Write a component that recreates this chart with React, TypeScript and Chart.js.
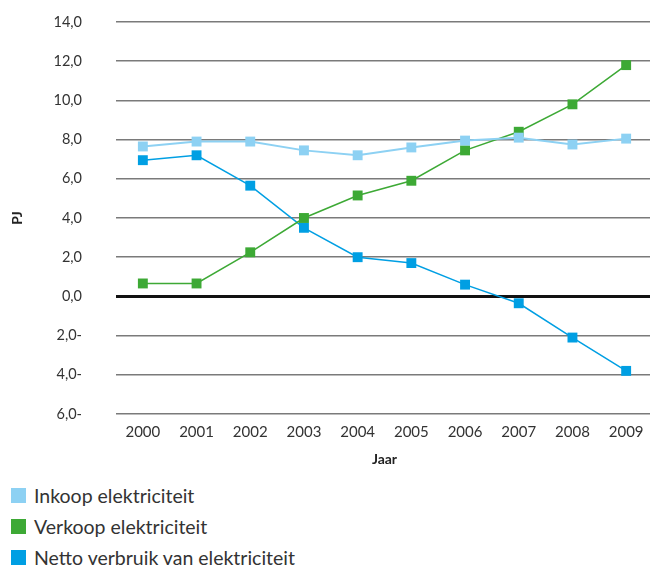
import React, { useEffect, useRef } from "react";
import { Chart, registerables } from "chart.js";

Chart.register(...registerables);

const years = ["2000", "2001", "2002", "2003", "2004", "2005", "2006", "2007", "2008", "2009"];
const inkoop = [7.65, 7.9, 7.9, 7.45, 7.2, 7.6, 7.95, 8.1, 7.75, 8.05];
const verkoop = [0.66, 0.66, 2.25, 4.0, 5.15, 5.9, 7.45, 8.4, 9.8, 11.8];
const netto = [6.95, 7.2, 5.65, 3.5, 2.0, 1.7, 0.6, -0.35, -2.1, -3.8];
const yTickValues = [14, 12, 10, 8, 6, 4, 2, 0, -2, -4, -6];
const yTickLabels = ["14,0", "12,0", "10,0", "8,0", "6,0", "4,0", "2,0", "0,0", "2,0-", "4,0-", "6,0-"];

const seriesNames = ["Inkoop elektriciteit", "Verkoop elektriciteit", "Netto verbruik van elektriciteit"];
const seriesColors = ["#8DD1F3", "#3DA935", "#009FE3"];

const FONT = "Lato, 'Open Sans', sans-serif";

export default function App() {
  const ref = useRef<HTMLCanvasElement | null>(null);

  useEffect(() => {
    if (!ref.current) return;
    const seriesData = [inkoop, verkoop, netto];
    const chart = new Chart(ref.current, {
      type: "line",
      data: {
        labels: years,
        datasets: seriesData.map((d, i) => ({
          label: seriesNames[i],
          data: d,
          borderColor: seriesColors[i],
          backgroundColor: seriesColors[i],
          borderWidth: i === 0 ? 2 : 1.5,
          pointStyle: "rect",
          pointRadius: 7,
          pointHoverRadius: 7,
          pointBorderWidth: 0,
          tension: 0,
          fill: false,
        })),
      },
      options: {
        responsive: false,
        animation: false,
        layout: { padding: { top: 22, bottom: 0, left: 0, right: 2 } },
        plugins: {
          legend: { display: false },
          tooltip: { enabled: false },
        },
        scales: {
          x: {
            type: "category",
            offset: true,
            grid: { display: false, drawTicks: false },
            border: { display: false },
            ticks: {
              padding: 9,
              color: "#333",
              font: { family: FONT, size: 15 },
              maxRotation: 0,
              autoSkip: false,
            },
            title: {
              display: true,
              text: "Jaar",
              color: "#222",
              font: { family: FONT, size: 14, weight: "bold" },
              padding: { top: 0, bottom: 7 },
            },
            afterFit: (s: any) => {
              s.height = 61;
            },
          },
          y: {
            min: -6,
            max: 14,
            afterBuildTicks: (s: any) => {
              s.ticks = yTickValues.map((v) => ({ value: v }));
            },
            grid: {
              drawTicks: false,
              color: (c: any) => (c.tick && c.tick.value === 0 ? "#111" : "#7a7a7a"),
              lineWidth: (c: any) => (c.tick && c.tick.value === 0 ? 3 : 1.5),
            },
            border: { display: false },
            ticks: {
              padding: 34,
              color: "#333",
              font: { family: FONT, size: 14.5 },
              callback: (v: any) => {
                const idx = yTickValues.indexOf(Number(v));
                return idx >= 0 ? yTickLabels[idx] : "";
              },
            },
            title: {
              display: true,
              text: "PJ",
              color: "#222",
              font: { family: FONT, size: 14, weight: "bold" },
              padding: { top: 9, bottom: 0 },
            },
            afterFit: (s: any) => {
              s.width = 116;
              s.paddingTop = 10;
              s.paddingBottom = 10;
            },
          },
        },
      },
    });
    return () => chart.destroy();
  }, []);

  return (
    <div
      style={{
        position: "absolute",
        left: 0,
        top: 0,
        width: 650,
        height: 569,
        overflow: "hidden",
        background: "#fff",
        fontFamily: FONT,
      }}
    >
      <canvas ref={ref} width={660} height={475} style={{ display: "block", width: 660, height: 475 }} />
      <div style={{ position: "absolute", left: 0, top: 480 }}>
        {seriesNames.map((n, i) => (
          <div key={n} style={{ display: "flex", alignItems: "center", height: 31 }}>
            <span
              style={{
                display: "inline-block",
                width: 15,
                height: 15,
                marginLeft: 11,
                marginRight: 8,
                background: seriesColors[i],
              }}
            />
            <span style={{ fontSize: 19.5, color: "#333", whiteSpace: "nowrap" }}>{n}</span>
          </div>
        ))}
      </div>
    </div>
  );
}
